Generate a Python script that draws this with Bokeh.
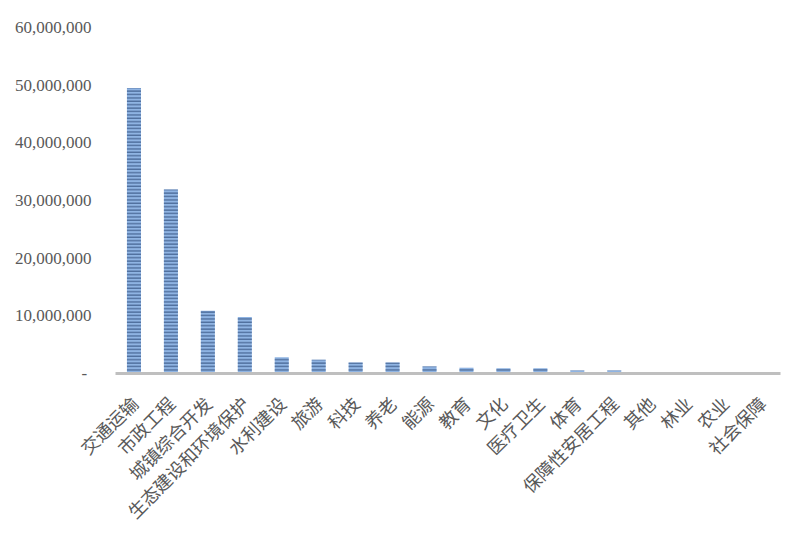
from bokeh.plotting import figure
from bokeh.models import ColumnDataSource, CustomJSTickFormatter, FixedTicker
from bokeh.embed import file_html
from bokeh.resources import INLINE
import math

categories = ["交通运输", "市政工程", "城镇综合开发", "生态建设和环境保护", "水利建设", "旅游",
              "科技", "养老", "能源", "教育", "文化", "医疗卫生", "体育", "保障性安居工程",
              "其他", "林业", "农业", "社会保障"]
values = [49500000, 31900000, 10900000, 9800000, 2800000, 2400000,
          1900000, 1900000, 1200000, 1000000, 900000, 900000, 500000, 500000,
          60000, 40000, 30000, 20000]
y_ticks = [0, 10000000, 20000000, 30000000, 40000000, 50000000, 60000000]

src = ColumnDataSource(dict(cat=categories, val=values))

p = figure(x_range=categories, y_range=(0, 60000000), width=793, height=535,
           output_backend="svg", toolbar_location=None,
           min_border_left=115, min_border_right=13, min_border_top=27, min_border_bottom=157)

p.vbar(x="cat", top="val", width=0.38, source=src,
       fill_color="#8fb4e3", line_color=None,
       hatch_pattern="horizontal_line", hatch_color="#4a6a98",
       hatch_scale=3.4, hatch_weight=1.3)

p.xgrid.visible = False
p.ygrid.visible = False
p.outline_line_color = None

p.yaxis.ticker = FixedTicker(ticks=y_ticks)
p.yaxis.formatter = CustomJSTickFormatter(code="return tick == 0 ? '- ' : tick.toLocaleString('en-US');")
p.yaxis.axis_line_color = None
p.yaxis.major_tick_line_color = None
p.yaxis.minor_tick_line_color = None
p.yaxis.major_label_text_font = "Liberation Serif"
p.yaxis.major_label_text_font_size = "17px"
p.yaxis.major_label_text_color = "#595959"
p.yaxis.major_label_standoff = 18

p.xaxis.axis_line_color = "#bfbfbf"
p.xaxis.axis_line_width = 3
p.xaxis.major_tick_line_color = None
p.xaxis.minor_tick_line_color = None
p.xaxis.major_label_orientation = math.pi / 4
p.xaxis.major_label_text_font = "Noto Sans CJK SC"
p.xaxis.major_label_text_font_size = "18px"
p.xaxis.major_label_text_color = "#595959"
p.xaxis.major_label_standoff = 20

open("out.html", "w").write(file_html(p, INLINE))
